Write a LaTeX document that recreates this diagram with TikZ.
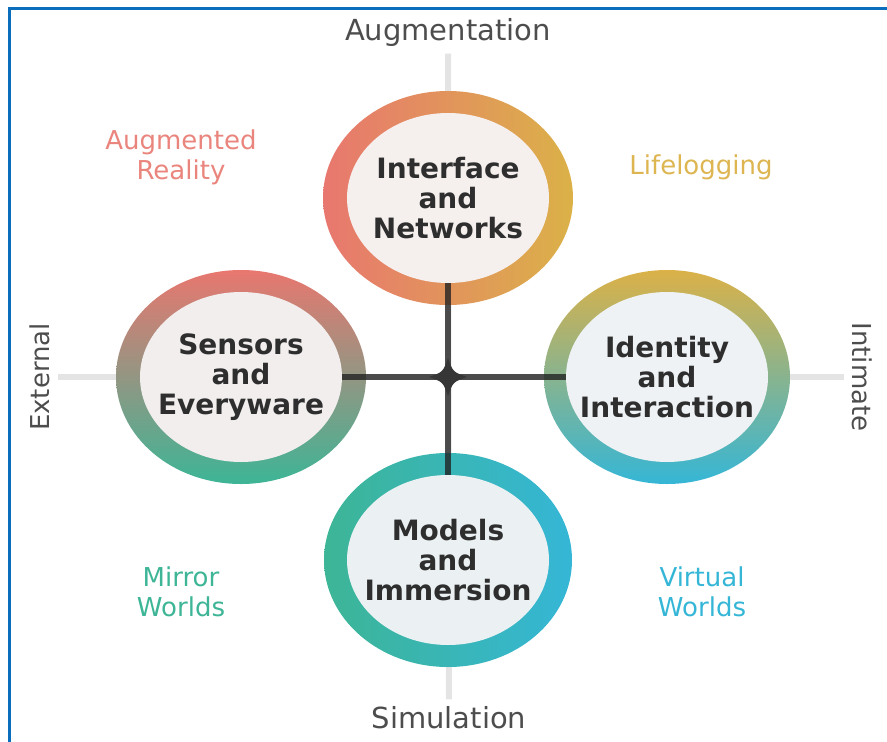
\documentclass[tikz,border=0pt]{standalone}
\usepackage{fontspec}
\setmainfont{DejaVu Sans}
\usetikzlibrary{shapes.geometric}
\pgfdeclarelayer{background}
\pgfsetlayers{background,main}
\definecolor{ringred}{HTML}{E8776F}
\definecolor{ringgold}{HTML}{DBB148}
\definecolor{ringgreen}{HTML}{3DB596}
\definecolor{ringcyan}{HTML}{35B6D6}
\definecolor{textdark}{HTML}{2E2E2E}
\definecolor{axisgray}{HTML}{4D4D4D}
\definecolor{axislight}{HTML}{E4E4E4}
\definecolor{crossdark}{HTML}{202020}
\definecolor{frameblue}{HTML}{0A6EBD}
\tikzset{
  area/.style={ellipse, inner sep=-20pt, minimum width=202pt, minimum height=170pt,
    font=\bfseries\fontsize{28}{30}\selectfont, text=textdark, align=center},
  quad/.style={font=\fontsize{26}{30}\selectfont, align=center},
  axislabel/.style={font=\fontsize{29}{30}\selectfont, text=axisgray},
  sidelabel/.style={font=\fontsize{26}{30}\selectfont, text=axisgray},
  lightaxis/.style={draw=axislight, line width=6pt, shorten >=4pt, shorten <=4pt},
  darkaxis/.style={draw=crossdark, line width=6pt, draw opacity=0.78}
}
\begin{document}
\begin{tikzpicture}[x=1pt, y=-1pt]
  \useasboundingbox (0,0) rectangle (887,742);
  \draw[frameblue, line width=3pt] (9,742) -- (9,8) -- (887,8);

  \node[axislabel] (aug) at (448,32) {Augmentation};
  \node[axislabel] (sim) at (449,718) {Simulation};
  \node[sidelabel, rotate=90] (ext) at (40,377) {External};
  \node[sidelabel, rotate=-90] (intm) at (862,377) {Intimate};

  \node[quad, text=ringred!90!white] (ar) at (181,157) {Augmented\\Reality};
  \node[quad, text=ringgold!95!white] (life) at (701,167) {Lifelogging};
  \node[quad, text=ringgreen] (mirr) at (181,592) {Mirror\\Worlds};
  \node[quad, text=ringcyan] (virt) at (702,592) {Virtual\\Worlds};

  \node[area, fill={rgb,255:red,245;green,239;blue,238}] (net) at (448,198) {Interface\\and\\Networks};
  \node[area, fill={rgb,255:red,242;green,238;blue,238}] (sen) at (241,377) {Sensors\\and\\Everyware};
  \node[area, fill={rgb,255:red,238;green,242;blue,244}] (ide) at (667,377) {Identity\\and\\Interaction};
  \node[area, fill={rgb,255:red,235;green,241;blue,243}] (mod) at (448,560) {Models\\and\\Immersion};
  \coordinate (hub) at (net |- sen);

  \begin{pgfonlayer}{background}
    \draw[lightaxis] (aug) -- (sim);
    \draw[lightaxis] (ext) -- (intm);
    \shade[left color=ringred, right color=ringgold] (net.center) ellipse [x radius=125, y radius=107];
    \shade[top color=ringred, bottom color=ringgreen] (sen.center) ellipse [x radius=125, y radius=107];
    \shade[top color=ringgold, bottom color=ringcyan] (ide.center) ellipse [x radius=123, y radius=107];
    \shade[left color=ringgreen, right color=ringcyan] (mod.center) ellipse [x radius=124, y radius=107];
    \draw[darkaxis] (net) -- (mod);
    \draw[darkaxis] (sen) -- (ide);
    \fill[crossdark!90!white, shift={(hub)}] (-19,0) .. controls (-5,-5) .. (0,-19)
      .. controls (5,-5) .. (19,0) .. controls (5,5) .. (0,19)
      .. controls (-5,5) .. (-19,0) -- cycle;
  \end{pgfonlayer}
\end{tikzpicture}
\end{document}
